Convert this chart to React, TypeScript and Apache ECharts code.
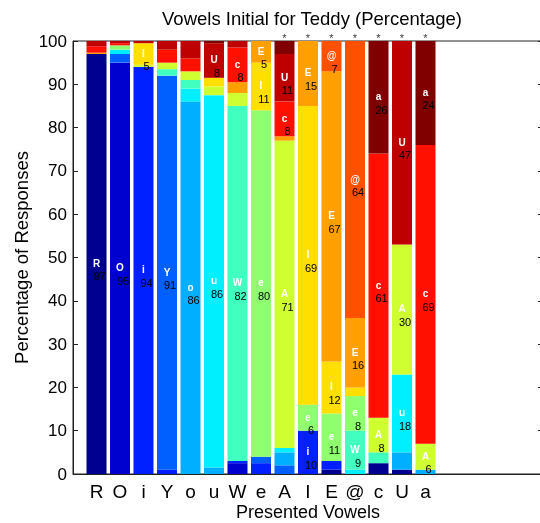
import React, { useEffect, useRef } from 'react';
import * as echarts from 'echarts';

// Presented vowels (bars) and response vowels (stack segments), same order
const presented = ['R', 'O', 'i', 'Y', 'o', 'u', 'W', 'e', 'A', 'I', 'E', '@', 'c', 'U', 'a'];
const responses = ['R', 'O', 'i', 'Y', 'o', 'u', 'W', 'e', 'A', 'I', 'E', '@', 'c', 'U', 'a'];

// Percentage of each response (one array per response vowel, across presented vowels R..a)
const respR = [97, 0, 0, 0, 0, 0, 0, 0, 0, 0, 1, 0, 2.5, 1, 0];
const respO = [0, 95, 0, 0, 0, 0, 2.5, 0, 0, 0, 0, 0, 0, 0, 0];
const respi = [0, 0, 94, 1, 0, 0, 0.5, 2.5, 0, 10, 2, 0, 0, 0, 0];
const respY = [0, 2, 0, 91, 0, 0, 0, 1.5, 2, 0, 0, 0, 0, 0, 0];
const respo = [0, 0, 0, 0, 86, 1.5, 0, 0, 3, 0, 0, 0, 0, 4, 1];
const respu = [0, 1, 0, 0, 3, 86, 0, 0, 1, 0, 0, 1, 0, 18, 0];
const respW = [0, 0, 0, 1.5, 2, 0, 82, 0, 0, 0, 0, 9, 2.5, 0, 0];
const respe = [0, 1, 0, 0, 0, 0, 0, 80, 0, 6, 11, 8, 0, 0, 0];
const respA = [0, 0, 0.5, 1.5, 2, 2, 3, 0, 71, 0, 0, 0, 8, 30, 6];
const respI = [0, 0, 5, 0, 0, 2, 0, 11, 0, 69, 12, 2, 0, 0, 0];
const respE = [0.3, 0, 0, 0, 0, 0, 2.5, 5, 1, 15, 67, 16, 0, 0, 0];
const respAt = [0, 0, 0, 0, 0, 0, 0, 0, 0, 0, 7, 64, 0, 0, 0];
const respc = [1.5, 0.5, 0, 3, 3, 0, 8, 0, 8, 0, 0, 0, 61, 0, 69];
const respU = [1.2, 0.5, 0.5, 2, 4, 8, 1.5, 0, 11, 0, 0, 0, 0, 47, 0];
const respa = [0, 0, 0, 0, 0, 0.5, 0, 0, 3, 0, 0, 0, 26, 0, 24];

const responseValues = [respR, respO, respi, respY, respo, respu, respW, respe, respA, respI, respE, respAt, respc, respU, respa];

// Presented vowels marked with an asterisk
const starred = ['A', 'I', 'E', '@', 'c', 'U', 'a'];

// Axis settings
const yMin = 0;
const yMax = 100;
const yInterval = 10;
const xSlots = 20; // x limits 0..20

// jet colormap colours
const colors = [
  '#000090', '#0000CF', '#0020FF', '#0060FF', '#00AFFF', '#00EFFF', '#40FFBF', '#8FFF70',
  '#CFFF30', '#FFDF00', '#FF9F00', '#FF5000', '#FF1000', '#BF0000', '#800000',
];

const FONT = '"Liberation Sans", Arial, Helvetica, sans-serif';

export default function App() {
  const ref = useRef<HTMLDivElement>(null);

  useEffect(() => {
    if (!ref.current) return;
    const chart = echarts.init(ref.current, undefined, { renderer: 'svg' });

    const slots = Array.from({ length: xSlots + 1 }, (_, i) => String(i));
    const pad = (vals: number[]) => {
      const out: (number | string)[] = slots.map(() => '-');
      vals.forEach((v, i) => { out[i + 1] = v; });
      return out;
    };

    const barSeries = responses.map((r, k) => ({
      type: 'bar',
      name: r,
      stack: 'total',
      barWidth: 20,
      data: pad(responseValues[k]),
      itemStyle: { color: colors[k] },
      label: {
        show: true,
        position: 'inside',
        offset: [0, 6],
        textBorderWidth: 0,
        textShadowBlur: 0,
        formatter: (p: any) => {
          const v = Number(p.value);
          return v >= 5 ? `{l|${r}}\n{n|${Math.round(v)}}` : '';
        },
        rich: {
          l: { color: '#ffffff', fontSize: 10, fontWeight: 'bold', fontFamily: FONT, lineHeight: 13, textBorderWidth: 0 },
          n: { color: '#000000', fontSize: 11, fontFamily: FONT, lineHeight: 13, padding: [0, 0, 0, 6], textBorderWidth: 0 },
        },
      },
      emphasis: { disabled: true },
    }));

    const starData = slots.map((_, i) => (i >= 1 && i <= presented.length && starred.includes(presented[i - 1]) ? yMax : '-'));

    const option: any = {
      animation: false,
      title: {
        text: 'Vowels Initial for Teddy (Percentage)',
        left: 307,
        top: 4,
        textAlign: 'center',
        textStyle: { fontFamily: FONT, fontSize: 18.5, fontWeight: 'normal', color: '#000' },
      },
      grid: {
        left: 73, right: -3, top: 41, bottom: 49,
        outerBoundsMode: 'none',
        containLabel: false,
        show: true, borderColor: '#222', borderWidth: 1, backgroundColor: 'transparent',
      },
      xAxis: {
        type: 'category',
        data: slots,
        boundaryGap: false,
        axisLine: { show: true, lineStyle: { color: '#222', width: 1 } },
        axisTick: { show: false },
        splitLine: { show: false },
        axisLabel: {
          interval: 0,
          margin: 8,
          color: '#000',
          fontFamily: FONT,
          fontSize: 19,
          formatter: (_v: string, idx: number) => (idx >= 1 && idx <= presented.length ? presented[idx - 1] : ''),
        },
        name: 'Presented Vowels',
        nameLocation: 'middle',
        nameGap: 29,
        nameMoveOverlap: false,
        nameTextStyle: { fontFamily: FONT, fontSize: 18, color: '#000' },
      },
      yAxis: [
        {
          type: 'value',
          min: yMin, max: yMax, interval: yInterval,
          position: 'left',
          axisLine: { show: true, lineStyle: { color: '#222', width: 1 } },
          axisTick: { show: true, inside: true, length: 5, lineStyle: { color: '#222' } },
          splitLine: { show: false },
          axisLabel: { margin: 6, color: '#000', fontFamily: FONT, fontSize: 17 },
          name: 'Percentage of Responses',
          nameLocation: 'middle',
          nameGap: 42,
          nameMoveOverlap: false,
          nameTextStyle: { fontFamily: FONT, fontSize: 18.5, color: '#000' },
        },
        {
          type: 'value',
          min: yMin, max: yMax, interval: yInterval,
          position: 'right',
          axisLine: { show: true, lineStyle: { color: '#222', width: 1 } },
          axisTick: { show: true, inside: true, length: 5, lineStyle: { color: '#222' } },
          splitLine: { show: false },
          axisLabel: { show: false },
        },
      ],
      series: [
        ...barSeries,
        {
          type: 'scatter',
          data: starData,
          symbolSize: 0,
          clip: false,
          z: 5,
          label: {
            show: true,
            position: 'top',
            distance: -2,
            formatter: '*',
            color: '#000',
            fontFamily: FONT,
            fontSize: 11,
          },
        },
      ],
    };

    chart.setOption(option);
    return () => chart.dispose();
  }, []);

  return <div ref={ref} style={{ position: 'fixed', left: 0, top: 0, width: 540, height: 523 }} />;
}
